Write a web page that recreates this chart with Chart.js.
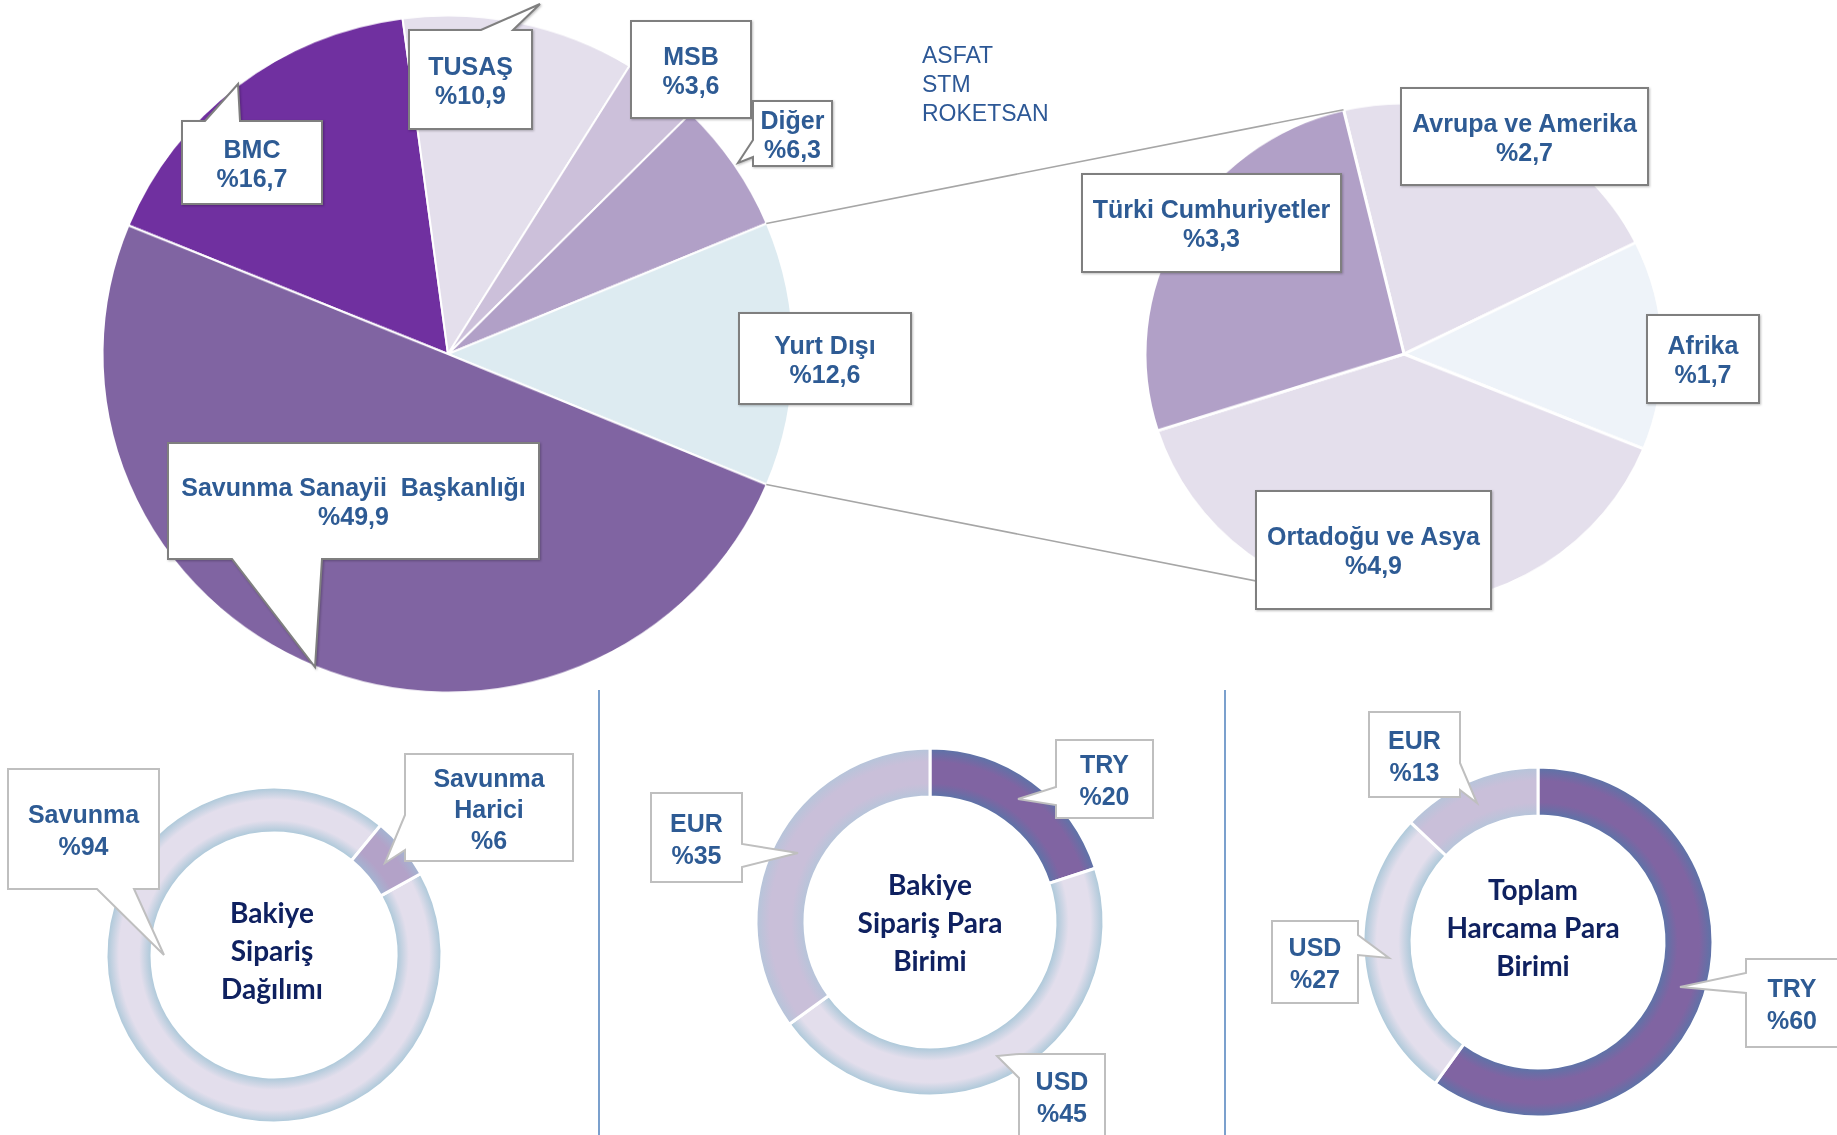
<!DOCTYPE html>
<html><head><meta charset="utf-8">
<script src="https://cdn.jsdelivr.net/npm/chart.js@4.4.1/dist/chart.umd.min.js"></script>
<style>
html,body{margin:0;padding:0;background:#fff;}
#stage{position:relative;width:1837px;height:1135px;overflow:hidden;background:#fff;}
#stage canvas{position:absolute;}
#stage svg{position:absolute;left:0;top:0;}
.lbl{position:absolute;transform:translate(-50%,-50%);text-align:center;font-family:'Liberation Sans',Arial,sans-serif;font-weight:bold;color:#2E5B94;white-space:pre;font-size:25px;}
.ctr{position:absolute;transform:translate(-50%,-50%);text-align:center;font-family:Lato,sans-serif;font-weight:bold;font-size:28px;line-height:38px;color:#0F2160;white-space:pre;}
.firms{position:absolute;font-family:'Liberation Sans',Arial,sans-serif;font-size:23px;line-height:29px;color:#2D5896;white-space:pre;}
</style></head>
<body><div id="stage"></div>
<script>
// ---------------- data ----------------
const mainLabels = ['BMC','TUSAŞ','MSB','Diğer','Yurt Dışı','Savunma Sanayii  Başkanlığı'];
const mainValues = [16.7,10.9,3.6,6.3,12.6,49.9];
const abroadLabels = ['Avrupa ve Amerika','Afrika','Ortadoğu ve Asya','Türki Cumhuriyetler'];
const abroadValues = [2.7,1.7,4.9,3.3];
const otherFirms = ['ASFAT','STM','ROKETSAN'];
const backlogLabels = ['Savunma','Savunma\nHarici'];
const backlogValues = [94,6];
const backlogCurLabels = ['TRY','USD','EUR'];
const backlogCurValues = [20,45,35];
const spendCurLabels = ['TRY','USD','EUR'];
const spendCurValues = [60,27,13];
const centerTitles = ['Bakiye\nSipariş\nDağılımı','Bakiye\nSipariş Para\nBirimi','Toplam\nHarcama Para\nBirimi'];

// ---------------- styles ----------------
const mainColors = ['#7030A0','#E4DFEC','#CCC0DA','#B1A0C7','#DDEBF1','#8064A2'];
const abroadColors = ['#E4DFEC','#EEF3F9','#E4DFEC','#B1A0C7'];
const LIGHT = '#E3DEEC', LIGHT_EDGE = '#A9C7D8';
const PURP = '#8064A2', PURP_EDGE = '#5B74A8';
const MID = '#C9BFD9', MID_EDGE = '#B5C5DA';
const HAR = '#B3A2C8', HAR_EDGE = '#A2B6D2';

const stage = document.getElementById('stage');
const SVGNS = 'http://www.w3.org/2000/svg';

function ringFill(mids, edges, cutFrac, outR) {
  return (ctx) => {
    const i = ctx.dataIndex ?? 0;
    const ch = ctx.chart, a = ch.chartArea;
    if (!a) return mids[i];
    const cx = (a.left + a.right) / 2, cy = (a.top + a.bottom) / 2;
    const g = ch.ctx.createRadialGradient(cx, cy, outR * cutFrac, cx, cy, outR);
    g.addColorStop(0, edges[i]);
    g.addColorStop(0.28, mids[i]);
    g.addColorStop(0.72, mids[i]);
    g.addColorStop(1, edges[i]);
    return g;
  };
}

function makeChart(spec) {
  const c = document.createElement('canvas');
  c.width = spec.w; c.height = spec.w;
  c.style.left = spec.left + 'px'; c.style.top = spec.top + 'px';
  c.style.width = spec.w + 'px'; c.style.height = spec.h + 'px';
  stage.appendChild(c);
  const chart = new Chart(c.getContext('2d'), {
    type: spec.cutout ? 'doughnut' : 'pie',
    data: { labels: spec.labels, datasets: [{
      data: spec.values, backgroundColor: spec.bg, borderColor: '#FFFFFF',
      borderWidth: spec.bw, hoverBorderWidth: spec.bw, hoverOffset: 0
    }]},
    options: {
      responsive: false, animation: false, events: [],
      rotation: spec.rotation, radius: spec.radius,
      cutout: spec.cutout ? (spec.cutout * 100) + '%' : 0,
      layout: { padding: 0 },
      plugins: { legend: { display: false }, tooltip: { enabled: false } }
    }
  });
  chart._pos = spec;
  return chart;
}
function toPage(chart, x, y) {
  const p = chart._pos;
  return [p.left + x, p.top + y * p.h / p.w];
}

// rotation of main pie: "Yurt Dışı" slice centred on the right (pie-of-pie)
const yi = 4;
const before = mainValues.slice(0, yi).reduce((s, v) => s + v, 0);
const totalMain = mainValues.reduce((s, v) => s + v, 0);
const mainRot = 90 - (before + mainValues[yi] / 2) / totalMain * 360;

const mainChart = makeChart({ labels: mainLabels, values: mainValues, bg: mainColors,
  w: 700, h: 686, left: 97.5, top: 11, radius: 345.5, rotation: mainRot, bw: 2 });
const abroadChart = makeChart({ labels: abroadLabels, values: abroadValues, bg: abroadColors,
  w: 530, h: 514, left: 1139, top: 97, radius: 259, rotation: -13.5, bw: 3 });

const c1 = 122 / 168, c2 = 125 / 174, c3 = 126 / 175;
const d1 = makeChart({ labels: backlogLabels, values: backlogValues,
  bg: ringFill([LIGHT, HAR], [LIGHT_EDGE, HAR_EDGE], c1, 168),
  w: 360, h: 360, left: 94, top: 775, radius: 168, cutout: c1, rotation: 61, bw: 3 });
const d2 = makeChart({ labels: backlogCurLabels, values: backlogCurValues,
  bg: ringFill([PURP, LIGHT, MID], [PURP_EDGE, LIGHT_EDGE, MID_EDGE], c2, 174),
  w: 360, h: 360, left: 750, top: 742, radius: 174, cutout: c2, rotation: 0, bw: 3 });
const d3 = makeChart({ labels: spendCurLabels, values: spendCurValues,
  bg: ringFill([PURP, LIGHT, MID], [PURP_EDGE, LIGHT_EDGE, MID_EDGE], c3, 175),
  w: 360, h: 360, left: 1358, top: 762, radius: 175, cutout: c3, rotation: 0, bw: 3 });

// ---------------- overlay: connectors, dividers ----------------
function svgLayer() {
  const s = document.createElementNS(SVGNS, 'svg');
  s.setAttribute('width', 1837); s.setAttribute('height', 1135);
  stage.appendChild(s); return s;
}
function line(s, x1, y1, x2, y2, col, w) {
  const l = document.createElementNS(SVGNS, 'line');
  l.setAttribute('x1', x1); l.setAttribute('y1', y1); l.setAttribute('x2', x2); l.setAttribute('y2', y2);
  l.setAttribute('stroke', col); l.setAttribute('stroke-width', w);
  s.appendChild(l);
}
const lay1 = svgLayer();
{
  const a = mainChart.getDatasetMeta(0).data[yi];
  const R = a.outerRadius;
  const p1 = toPage(mainChart, a.x + R * Math.cos(a.startAngle), a.y + R * Math.sin(a.startAngle));
  const p2 = toPage(mainChart, a.x + R * Math.cos(a.endAngle), a.y + R * Math.sin(a.endAngle));
  const b = abroadChart.getDatasetMeta(0).data[0];
  const Rb = b.outerRadius;
  const q1 = toPage(abroadChart, b.x + Rb * Math.cos(b.startAngle), b.y + Rb * Math.sin(b.startAngle));
  const q2 = toPage(abroadChart, b.x + Rb * Math.cos(b.startAngle), b.y - Rb * Math.sin(b.startAngle));
  line(lay1, p1[0], p1[1], q1[0], q1[1], '#A6A6A6', 1.6);
  line(lay1, p2[0], p2[1], q2[0], q2[1], '#A6A6A6', 1.6);
  line(lay1, 599, 690, 599, 1135, '#4F81BD', 1.5);
  line(lay1, 1225, 690, 1225, 1135, '#4F81BD', 1.5);
}

// ---------------- callouts ----------------
const lay2 = svgLayer();
function calloutPath(box, t) {
  const [x1, y1, x2, y2] = box; const p = [];
  p.push([x1, y1]);
  if (t && t.edge === 'top') p.push([t.a, y1], t.tip, [t.b, y1]);
  p.push([x2, y1]);
  if (t && t.edge === 'right') p.push([x2, t.a], t.tip, [x2, t.b]);
  p.push([x2, y2]);
  if (t && t.edge === 'bottom') p.push([t.b, y2], t.tip, [t.a, y2]);
  p.push([x1, y2]);
  if (t && t.edge === 'left') p.push([x1, t.b], t.tip, [x1, t.a]);
  return 'M' + p.map(q => q[0] + ',' + q[1]).join(' L') + ' Z';
}
const textLayer = [];
function callout(box, tail, text, stroke, lh, dark) {
  const path = document.createElementNS(SVGNS, 'path');
  path.setAttribute('d', calloutPath(box, tail));
  path.setAttribute('fill', '#FFFFFF');
  path.setAttribute('stroke', stroke);
  path.setAttribute('stroke-width', 2);
  if (dark) path.setAttribute('style', 'filter:drop-shadow(1px 1px 1px rgba(0,0,0,0.25))');
  lay2.appendChild(path);
  const d = document.createElement('div');
  d.className = 'lbl';
  d.style.left = ((box[0] + box[2]) / 2) + 'px';
  d.style.top = ((box[1] + box[3]) / 2 + 1) + 'px';
  d.style.lineHeight = lh + 'px';
  d.textContent = text;
  textLayer.push(d);
}
const pct1 = v => '%' + v.toFixed(1).replace('.', ',');
const pct0 = v => '%' + v;
const TOP = '#7F7F7F', BOT = '#BFBFBF';

const mainBoxes = [
  { box: [182,121,322,204], tail: { edge: 'top', a: 205, b: 240, tip: [238,84] } },
  { box: [409,30,532,129], tail: { edge: 'top', a: 481, b: 513, tip: [540,4] } },
  { box: [631,21,751,118] },
  { box: [753,101,832,166], tail: { edge: 'left', a: 140, b: 157, tip: [738,163] } },
  { box: [739,313,911,404] },
  { box: [168,443,539,559], tail: { edge: 'bottom', a: 232, b: 322, tip: [315,667] } }
];
mainBoxes.forEach((m, i) => callout(m.box, m.tail, mainLabels[i] + '\n' + pct1(mainValues[i]), TOP, 29, true));
const abroadBoxes = [[1401,88,1648,185],[1647,315,1759,403],[1256,491,1491,609],[1082,174,1341,272]];
abroadBoxes.forEach((b, i) => callout(b, null, abroadLabels[i] + '\n' + pct1(abroadValues[i]), TOP, 29, true));

const d1Boxes = [
  { box: [8,769,159,889], tail: { edge: 'bottom', a: 97, b: 134, tip: [164,955] }, lh: 32 },
  { box: [405,754,573,861], tail: { edge: 'left', a: 815, b: 850, tip: [385,863] }, lh: 31 }
];
d1Boxes.forEach((m, i) => callout(m.box, m.tail, backlogLabels[i] + '\n' + pct0(backlogValues[i]), BOT, m.lh, false));
const d2Boxes = [
  { box: [1056,740,1153,818], tail: { edge: 'left', a: 787, b: 805, tip: [1018,799] } },
  { box: [1019,1054,1105,1138], tail: { edge: 'left', a: 1054, b: 1078, tip: [997,1056] } },
  { box: [651,793,742,882], tail: { edge: 'right', a: 844, b: 867, tip: [798,853] } }
];
d2Boxes.forEach((m, i) => callout(m.box, m.tail, backlogCurLabels[i] + '\n' + pct0(backlogCurValues[i]), BOT, 32, false));
const d3Boxes = [
  { box: [1746,959,1838,1047], tail: { edge: 'left', a: 973, b: 993, tip: [1680,987] } },
  { box: [1272,921,1358,1003], tail: { edge: 'right', a: 935, b: 955, tip: [1389,958] } },
  { box: [1369,712,1460,797], tail: { edge: 'right', a: 763, b: 790, tip: [1477,803] } }
];
d3Boxes.forEach((m, i) => callout(m.box, m.tail, spendCurLabels[i] + '\n' + pct0(spendCurValues[i]), BOT, 32, false));
textLayer.forEach(d => stage.appendChild(d));

// ---------------- centre titles & firm list ----------------
[[d1, -2, -5], [d2, 0, 0], [d3, -5, -15]].forEach(([ch, dx, dy], i) => {
  const a = ch.getDatasetMeta(0).data[0];
  const p = toPage(ch, a.x, a.y);
  const d = document.createElement('div');
  d.className = 'ctr';
  d.style.left = (p[0] + dx) + 'px'; d.style.top = (p[1] + dy) + 'px';
  d.textContent = centerTitles[i];
  stage.appendChild(d);
});
const f = document.createElement('div');
f.className = 'firms';
f.style.left = '922px'; f.style.top = '41px';
f.textContent = otherFirms.join('\n');
stage.appendChild(f);
</script>
</body></html>
